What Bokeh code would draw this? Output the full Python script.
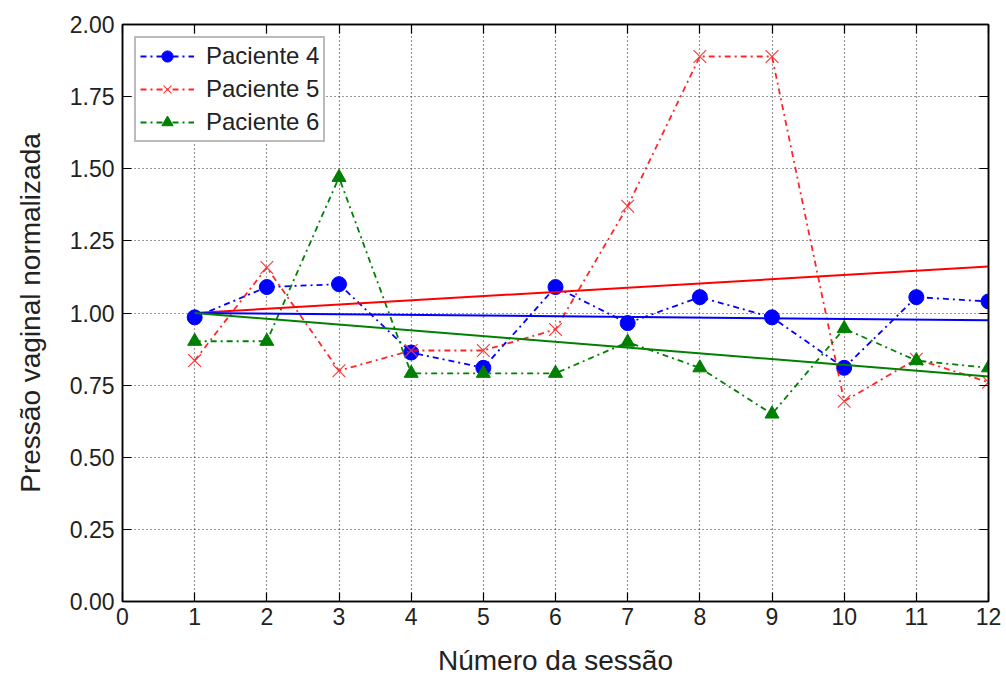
from bokeh.plotting import figure
from bokeh.models import (LinearAxis, Legend, LegendItem, FixedTicker, NumeralTickFormatter,
                          Range1d, CustomJSTickFormatter)
from bokeh.embed import file_html
from bokeh.resources import INLINE

sessions = [1, 2, 3, 4, 5, 6, 7, 8, 9, 10, 11, 12]
paciente4 = [0.985, 1.09, 1.10, 0.863, 0.81, 1.09, 0.965, 1.055, 0.985, 0.81, 1.055, 1.04]
paciente5 = [0.835, 1.158, 0.80, 0.87, 0.87, 0.943, 1.37, 1.889, 1.889, 0.694, 0.84, 0.76]
paciente6 = [0.902, 0.902, 1.47, 0.791, 0.791, 0.791, 0.899, 0.81, 0.65, 0.946, 0.835, 0.81]
trend_x = [1, 12]
trend4 = [1.0, 0.975]
trend5 = [1.0, 1.161]
trend6 = [1.0, 0.78]
labels = ["Paciente 4", "Paciente 5", "Paciente 6"]
x_ticks = list(range(0, 13))
y_ticks = [0.0, 0.25, 0.5, 0.75, 1.0, 1.25, 1.5, 1.75, 2.0]

FONT = "Liberation Sans"

p = figure(width=1006, height=679, output_backend="svg", toolbar_location=None,
           x_range=Range1d(0, 12), y_range=Range1d(0, 2))
p.min_border_left = 122
p.min_border_right = 18
p.min_border_top = 24
p.min_border_bottom = 78
p.outline_line_color = "black"
p.outline_line_width = 1.5
p.background_fill_color = "white"
p.border_fill_color = "white"

for ax in (p.xaxis[0], p.yaxis[0]):
    ax.major_tick_in = 9
    ax.major_tick_out = 0
    ax.minor_tick_line_color = None
    ax.axis_line_color = "black"
    ax.axis_line_width = 1.5
    ax.major_tick_line_color = "black"
    ax.major_tick_line_width = 1.2
    ax.major_label_text_font = FONT
    ax.major_label_text_font_size = "23px"
    ax.major_label_text_color = "#222222"
    ax.axis_label_text_font = FONT
    ax.axis_label_text_font_size = "28px"
    ax.axis_label_text_font_style = "normal"
    ax.axis_label_text_color = "#222222"

p.xaxis[0].ticker = FixedTicker(ticks=x_ticks)
p.yaxis[0].ticker = FixedTicker(ticks=y_ticks)
p.yaxis[0].formatter = NumeralTickFormatter(format="0.00")
p.xaxis[0].axis_label = "Número da sessão"
p.yaxis[0].axis_label = "Pressão vaginal normalizada"
p.xaxis[0].major_label_standoff = 6
p.yaxis[0].major_label_standoff = 8
p.xaxis[0].axis_label_standoff = 17
p.yaxis[0].axis_label_standoff = 21

right = LinearAxis(ticker=FixedTicker(ticks=y_ticks), formatter=CustomJSTickFormatter(code="return ''"),
                   major_tick_in=9, major_tick_out=0, minor_tick_line_color=None,
                   axis_line_color="black", axis_line_width=1.5, major_tick_line_width=1.2)
top = LinearAxis(ticker=FixedTicker(ticks=x_ticks), formatter=CustomJSTickFormatter(code="return ''"),
                 major_tick_in=9, major_tick_out=0, minor_tick_line_color=None,
                 axis_line_color="black", axis_line_width=1.5, major_tick_line_width=1.2)
p.add_layout(right, "right")
p.add_layout(top, "above")

for g in (p.xgrid[0], p.ygrid[0]):
    g.grid_line_color = "black"
    g.grid_line_alpha = 0.8
    g.grid_line_dash = "1 3"
    g.grid_line_width = 1.2
p.xgrid[0].ticker = FixedTicker(ticks=x_ticks)
p.ygrid[0].ticker = FixedTicker(ticks=y_ticks)

dash = "6 4 2 4"
l4 = p.line(sessions, paciente4, line_color="#0000ff", line_width=1.8, line_dash=dash)
s4 = p.scatter(sessions, paciente4, marker="circle", size=15, fill_color="#0000ff", line_color="#0000ff")
l5 = p.line(sessions, paciente5, line_color="#ff0000", line_width=1.8, line_dash=dash, line_alpha=0.85)
s5 = p.scatter(sessions, paciente5, marker="x", size=18, line_color="#ff3333", line_width=1.1)
l6 = p.line(sessions, paciente6, line_color="#008000", line_width=1.8, line_dash=dash)
s6 = p.scatter(sessions, paciente6, marker="triangle", size=14, fill_color="#008000", line_color="#008000")

p.line(trend_x, trend5, line_color="#ff0000", line_width=2)
p.line(trend_x, trend4, line_color="#0000ff", line_width=2)
p.line(trend_x, trend6, line_color="#008000", line_width=2)

legend = Legend(items=[LegendItem(label=labels[0], renderers=[l4, s4]),
                       LegendItem(label=labels[1], renderers=[l5, s5]),
                       LegendItem(label=labels[2], renderers=[l6, s6])],
                location="top_left")
legend.label_text_font = FONT
legend.label_text_font_size = "24px"
legend.label_text_color = "#222222"
legend.border_line_color = "#777777"
legend.border_line_width = 2
legend.glyph_width = 54
legend.glyph_height = 28
legend.label_standoff = 12
legend.spacing = 5
legend.padding = 4
legend.margin = 12
legend.background_fill_alpha = 1
p.add_layout(legend)

open("out.html", "w").write(file_html(p, INLINE))
